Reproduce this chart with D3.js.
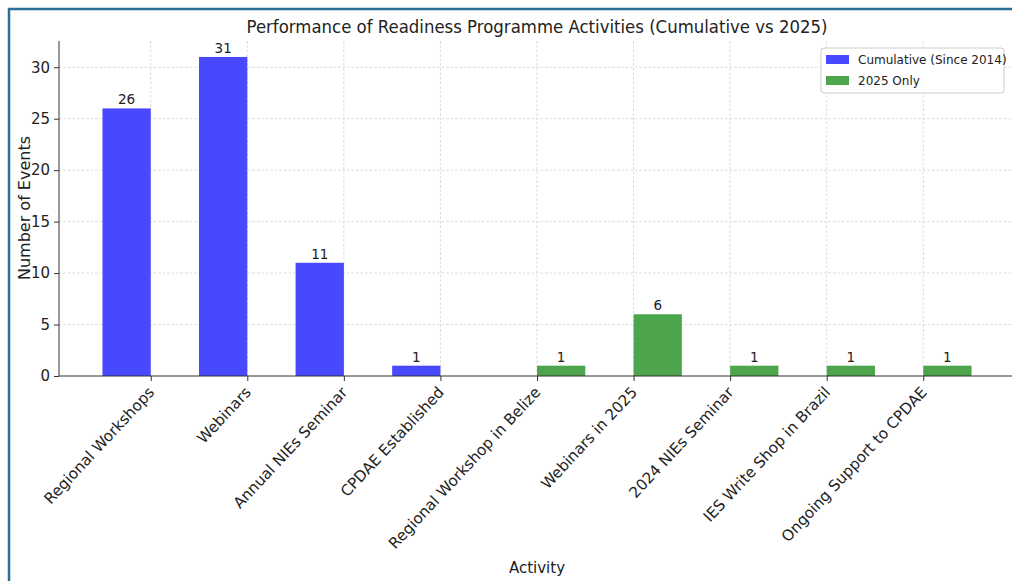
<!DOCTYPE html>
<html><head><meta charset="utf-8">
<script src="https://cdn.jsdelivr.net/npm/d3@7"></script>
<style>body{margin:0;background:#fff}svg{display:block}text{font-family:"DejaVu Sans",sans-serif;fill:#222}</style>
</head><body>
<script>
const categories = ["Regional Workshops","Webinars","Annual NIEs Seminar","CPDAE Established","Regional Workshop in Belize","Webinars in 2025","2024 NIEs Seminar","IES Write Shop in Brazil","Ongoing Support to CPDAE"];
const cumulative = [26,31,11,1,null,null,null,null,null];
const only2025 = [null,null,null,null,1,6,1,1,1];
const yTicks = [0,5,10,15,20,25,30];
const seriesNames = ["Cumulative (Since 2014)","2025 Only"];
const colors = ["rgb(72,72,255)","rgb(76,165,76)"];

const W=1012,H=581;
const svg=d3.select("body").append("svg").attr("width",W).attr("height",H);
// frame
svg.append("path").attr("d",`M9,${H} L9,9 L${W},9`).attr("fill","none").attr("stroke","#2b6e96").attr("stroke-width",2.5);

const x=d3.scaleLinear().domain([-0.95,8.95]).range([59,1015]);
const y=d3.scaleLinear().domain([0,32.55]).range([376,41]);

// grid
const g=svg.append("g");
g.selectAll(".hg").data(yTicks.filter(d=>d>0)).join("line")
 .attr("x1",59).attr("x2",W).attr("y1",d=>y(d)).attr("y2",d=>y(d))
 .attr("stroke","#dadada").attr("stroke-dasharray","2.5,2").attr("stroke-width",1);
g.selectAll(".vg").data(categories).join("line")
 .attr("x1",(d,i)=>x(i)).attr("x2",(d,i)=>x(i)).attr("y1",41).attr("y2",376)
 .attr("stroke","#dadada").attr("stroke-dasharray","2.5,2").attr("stroke-width",1);

// bars
const series=[cumulative,only2025];
series.forEach((vals,s)=>{
  const data=vals.map((v,i)=>({v,i})).filter(d=>d.v!=null);
  svg.append("g").selectAll("rect").data(data).join("rect")
   .attr("x",d=>x(d.i-0.5+s*0.5)).attr("width",x(0.5)-x(0))
   .attr("y",d=>y(d.v)).attr("height",d=>y(0)-y(d.v)).attr("fill",colors[s]);
  svg.append("g").selectAll("text").data(data).join("text")
   .attr("x",d=>x(d.i-0.25+s*0.5)).attr("y",d=>y(d.v)-4)
   .attr("text-anchor","middle").attr("font-size",13.5).text(d=>d.v);
});

// axes
const yAxis=svg.append("g").attr("transform","translate(59,0)")
 .call(d3.axisLeft(y).tickValues(yTicks).tickSize(5).tickPadding(4));
yAxis.select(".domain").attr("stroke","#333").attr("d","M0,41V376");
yAxis.selectAll("text").attr("font-size",15).attr("fill","#222");
yAxis.selectAll("line").attr("stroke","#333");

const xAxis=svg.append("g").attr("transform","translate(0,376)")
 .call(d3.axisBottom(x).tickValues(d3.range(categories.length)).tickFormat(i=>categories[i]).tickSize(5));
xAxis.select(".domain").attr("stroke","#333").attr("d",`M59,0H${W}`);
xAxis.selectAll("line").attr("stroke","#333");
xAxis.selectAll("text").attr("font-size",15.2).attr("fill","#222")
 .attr("text-anchor","end").attr("dy",0).attr("y",0)
 .attr("transform","translate(4,17) rotate(-47)");

// titles
svg.append("text").attr("x",537).attr("y",33).attr("text-anchor","middle").attr("font-size",18)
 .attr("textLength",581).attr("lengthAdjust","spacingAndGlyphs")
 .text("Performance of Readiness Programme Activities (Cumulative vs 2025)");
svg.append("text").attr("transform","translate(30,208) rotate(-90)").attr("text-anchor","middle").attr("font-size",16).text("Number of Events");
svg.append("text").attr("x",537).attr("y",573).attr("text-anchor","middle").attr("font-size",15).text("Activity");

// legend
const lg=svg.append("g");
lg.append("rect").attr("x",821).attr("y",48).attr("width",183).attr("height",45).attr("rx",3)
 .attr("fill","#fff").attr("fill-opacity",0.85).attr("stroke","#ccc");
seriesNames.forEach((n,i)=>{
  lg.append("rect").attr("x",826).attr("y",55+i*21).attr("width",23).attr("height",9).attr("fill",colors[i]);
  lg.append("text").attr("x",858).attr("y",64+i*21).attr("font-size",12).text(n);
});
</script>
</body></html>
